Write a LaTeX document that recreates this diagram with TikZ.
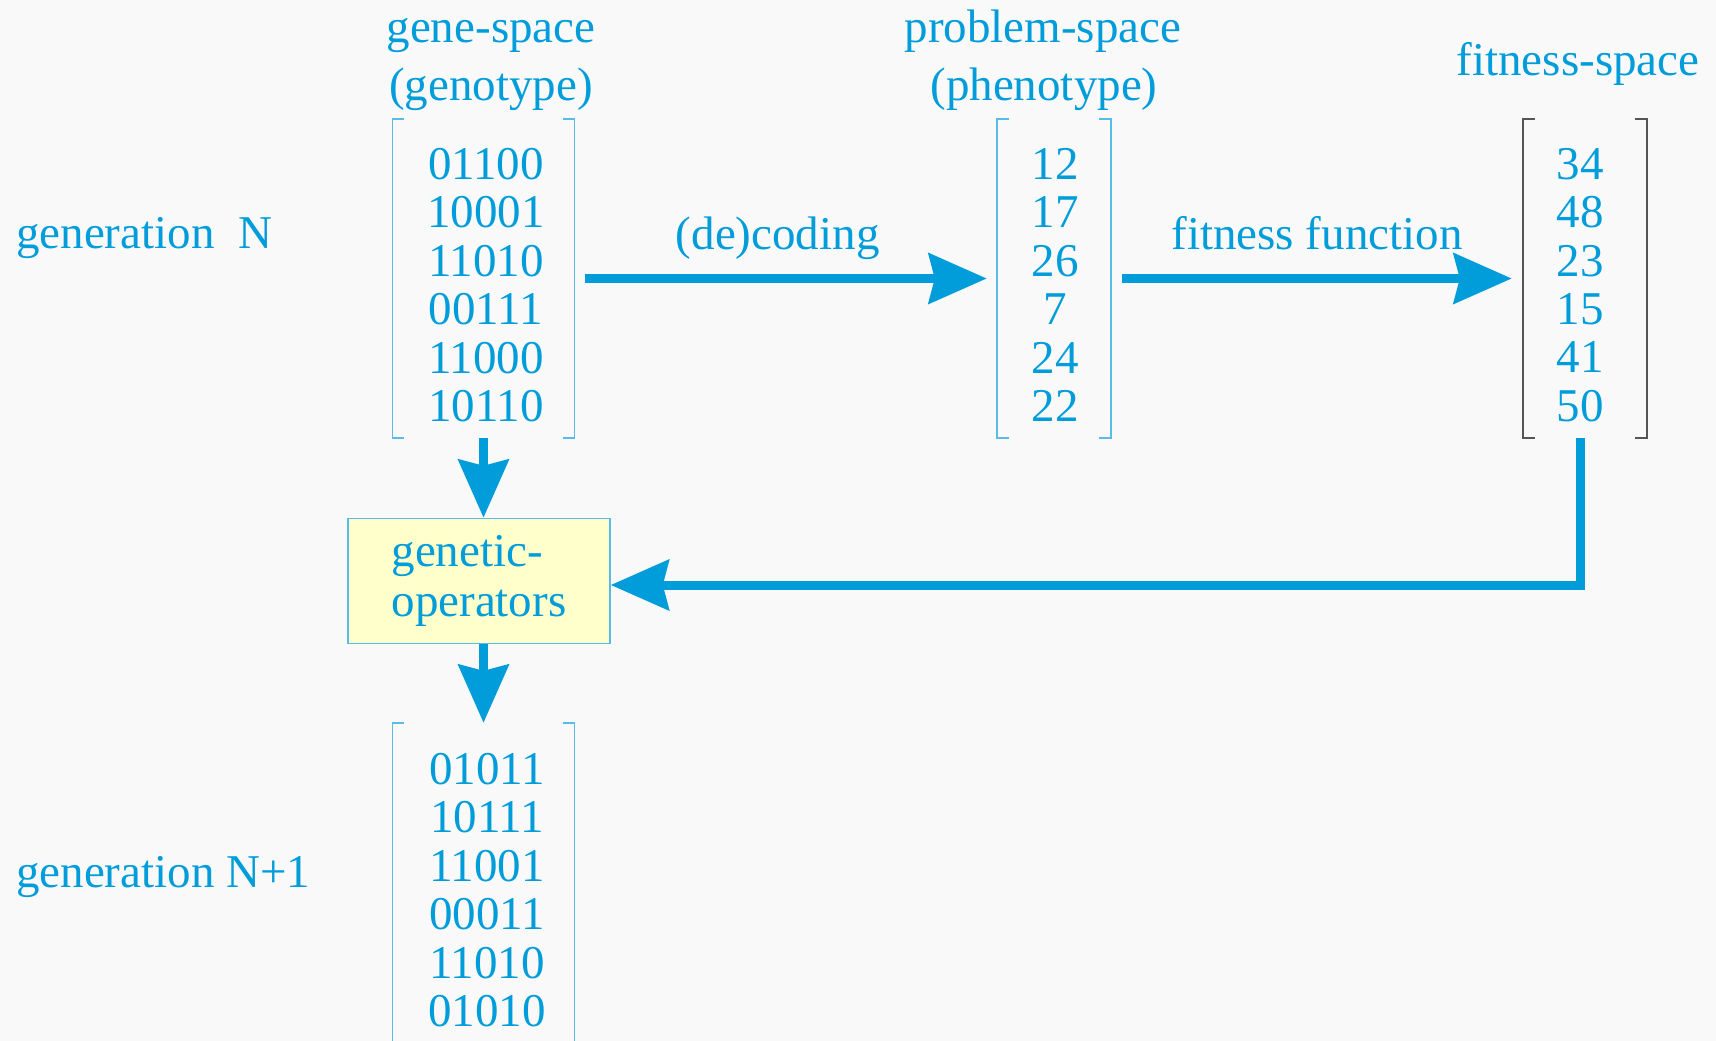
\documentclass[tikz,border=0pt]{standalone}
\usepackage{fontspec}
\setmainfont{Liberation Serif}
\usetikzlibrary{arrows.meta,positioning}
\definecolor{gablue}{RGB}{0,157,218}
\definecolor{brkblue}{RGB}{90,188,230}
\definecolor{brkgrey}{RGB}{85,85,85}
\definecolor{opsfill}{RGB}{255,255,204}
\definecolor{bgcol}{RGB}{249,249,249}

\begin{document}
\begin{tikzpicture}[x=1pt, y=-1pt,
    txt/.style={text=gablue, font=\fontsize{47}{48.4}\selectfont, inner sep=0pt},
    vals/.style={txt, align=center},
    brk/.style={minimum height=319pt, inner sep=0pt},
    flow/.style={draw=gablue, line width=9pt, -{Stealth[length=58pt, width=50pt, inset=6pt]}},
    ops/.style={txt, font=\fontsize{47}{50}\selectfont, draw=brkblue, line width=1.5pt, fill=opsfill,
        minimum width=262pt, minimum height=125pt, align=left, text width=175pt}
]
\useasboundingbox (0,0) rectangle (1716,1041);
\clip (0,0) rectangle (1716,1041);
\fill[bgcol] (0,0) rectangle (1716,1041);

% headings
\node[txt, anchor=base] (genehead) at (491,43) {gene-space};
\node[txt, anchor=base] (genesub) at (491,100) {(genotype)};
\node[txt, anchor=base] (probhead) at (1043,43) {problem-space};
\node[txt, anchor=base] (probsub) at (1044,100) {(phenotype)};
\node[txt, anchor=base] (fithead) at (1578,75) {fitness-space};
\node[txt, anchor=base west] (genN) at (16,248) {generation~~N};
\node[txt, anchor=base west] (genN1) at (16,887) {generation N+1};

% bracketed columns
\node[brk, minimum width=182pt] (gene) at (483.5,278.5) {};
\node[brk, minimum width=114pt] (prob) at (1054,278.5) {};
\node[brk, minimum width=124pt] (fit) at (1585,278.5) {};
\node[brk, minimum width=182pt, minimum height=400pt] (next) at (483.5,923) {};

\node[vals] (genevals) at (486,285) {01100\\10001\\11010\\00111\\11000\\10110};
\node[vals] (probvals) at (1055,285) {12\\17\\26\\7\\24\\22};
\node[vals] (fitvals) at (1580,285) {34\\48\\23\\15\\41\\50};
\node[vals] (nextvals) at (487,890) {01011\\10111\\11001\\00011\\11010\\01010};

\foreach \b/\c in {gene/brkblue, prob/brkblue, fit/brkgrey, next/brkblue}{
    \draw[\c, line width=1.5pt] ([xshift=12pt]\b.north west) -| (\b.south west) -- ++(12pt,0);
    \draw[\c, line width=1.5pt] ([xshift=-12pt]\b.north east) -| (\b.south east) -- ++(-12pt,0);
}

\node[ops] (opbox) at (479,581) {genetic-\\operators};

% arrows
\draw[flow] ([xshift=10pt]gene.east) -- node[txt, anchor=base, pos=0.48, yshift=29pt] (decode) {(de)coding} ([xshift=-10pt]prob.west);
\draw[flow] ([xshift=11pt]prob.east) -- node[txt, anchor=base, pos=0.5, yshift=29pt] (fitfun) {fitness function} ([xshift=-11pt]fit.west);
\draw[flow] (gene.south) -- (gene.south |- opbox.north);
\draw[flow] (gene.south |- opbox.south) -- (next.north);
\draw[flow] ([xshift=-5pt]fit.south) |- ([yshift=-4pt]opbox.east);
\end{tikzpicture}
\end{document}
